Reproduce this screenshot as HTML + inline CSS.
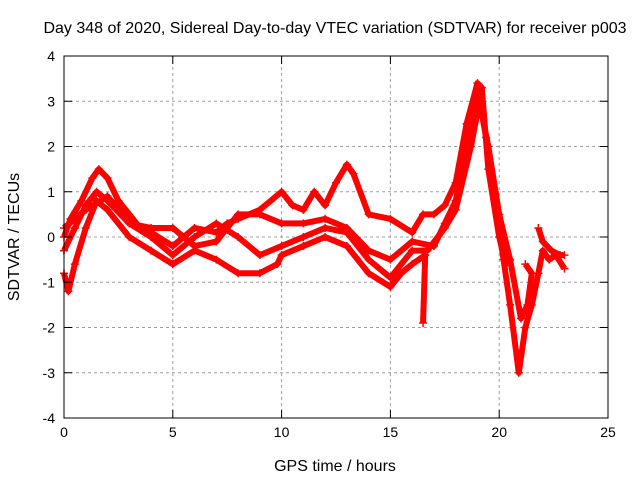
<!DOCTYPE html>
<html><head><meta charset="utf-8"><style>
body{margin:0;background:#fff;}
svg{display:block;font-family:"Liberation Sans",sans-serif;}
</style></head><body>
<svg id="chart" width="640" height="480">
<g id="grid"></g>
<g id="series"></g>
<rect x="64" y="56" width="544" height="362" fill="none" stroke="#000" stroke-width="1"/>
<g id="ticks"></g>
<text x="335" y="33" font-size="16" text-anchor="middle">Day 348 of 2020, Sidereal Day-to-day VTEC variation (SDTVAR) for receiver p003</text>
<text x="335" y="471" font-size="16" text-anchor="middle">GPS time / hours</text>
<text x="19" y="237" font-size="16" text-anchor="middle" transform="rotate(-90 19 237)">SDTVAR / TECUs</text>
</svg>
<script>
const xTicks=[0,5,10,15,20,25];
const yTicks=[-4,-3,-2,-1,0,1,2,3,4];
const traceA=[[0,0],[0.3,0.4],[0.8,0.8],[1.3,1.3],[1.6,1.5],[2,1.3],[2.5,0.8],[3,0.5],[3.5,0.2],[4,0.1],[5,-0.2],[6,0.2],[7,0.1],[7.5,0.3],[8,0.4],[9,0.6],[10,1.0],[10.5,0.7],[11,0.6],[11.5,1.0],[12,0.7],[12.5,1.2],[13,1.6],[13.3,1.4],[14,0.5],[15,0.4],[16,0.1],[16.5,0.5],[17,0.5],[17.5,0.7],[18,1.2],[18.5,2.5],[19,3.4],[19.2,3.3],[19.5,1.5],[20,0.0],[20.3,-0.6],[20.5,-0.5]];
const traceB=[[0,-0.8],[0.2,-1.2],[0.5,-0.6],[1,0.2],[1.5,0.8],[2,0.6],[3,0.0],[4,-0.3],[5,-0.6],[6,-0.3],[7,-0.5],[8,-0.8],[9,-0.8],[9.8,-0.6],[10,-0.4],[11,-0.2],[12,0.0],[13,-0.2],[14,-0.8],[15,-1.1],[15.5,-0.8],[16,-0.6],[16.6,-0.4],[16.5,-1.9]];
const traceC=[[0,-0.3],[0.5,0.2],[1,0.7],[1.5,1.0],[2,0.8],[3,0.3],[4,0.2],[5,0.2],[6,-0.2],[7,-0.1],[8,0.5],[9,0.5],[10,0.3],[11,0.3],[12,0.4],[13,0.2],[14,-0.3],[15,-0.5],[16,-0.1],[17,-0.2],[17.5,0.3],[18,0.8],[18.5,2.0],[19,3.2],[19.5,2.0],[20,0.5],[20.5,-0.5],[21,-1.8],[21.3,-1.5],[21.5,-0.8],[21.2,-0.6]];
const traceD=[[0,0.2],[1,0.6],[2,0.9],[3,0.3],[4,0.0],[5,-0.4],[6,0.0],[7,0.3],[8,0.0],[9,-0.4],[10,-0.2],[11,0.0],[12,0.2],[13,0.1],[14,-0.5],[15,-0.9],[16,-0.3],[16.7,-0.3],[17.5,0.2],[18,0.6],[18.7,2.0],[19.1,3.0],[19.4,2.2],[19.8,0.8],[20.2,-0.5],[20.5,-1.5],[20.9,-3.0],[21.2,-2.0],[21.5,-1.5],[21.8,-0.8],[22,-0.3],[22.3,-0.5],[22.6,-0.4],[23,-0.7]];
const traceE=[[21.8,0.2],[22,-0.1],[22.4,-0.3],[22.8,-0.4],[23,-0.4]];
const X0=64,X1=608,Y0=418,Y1=56;
function sx(v){return X0+(v-0)/(25-0)*(X1-X0);}
function sy(v){return Y0-(v+4)/8*(Y0-Y1);}
const NS="http://www.w3.org/2000/svg";
const grid=document.getElementById('grid'),ticks=document.getElementById('ticks'),ser=document.getElementById('series');
function mk(t,a,p){const e=document.createElementNS(NS,t);for(const k in a)e.setAttribute(k,a[k]);p.appendChild(e);return e;}
xTicks.forEach(v=>{const x=sx(v);
 if(v>0&&v<25){const g=mk('line',{x1:x,y1:Y0,x2:x,y2:Y1,stroke:'#a0a0a0','stroke-dasharray':'3,3'},grid);
 }
 const t=mk('path',{d:`M${x},${Y0}v-8M${x},${Y1}v8`,stroke:'#000'},ticks);
 
 const l=mk('text',{x:x,y:Y0+19,'font-size':14,'text-anchor':'middle'},ticks);l.textContent=v;
 });
yTicks.forEach(v=>{const y=sy(v);
 if(v>-4&&v<4){const g=mk('line',{x1:X0,y1:y,x2:X1,y2:y,stroke:'#a0a0a0','stroke-dasharray':'3,3'},grid);
 }
 const t=mk('path',{d:`M${X0},${y}h8M${X1},${y}h-8`,stroke:'#000'},ticks);
 
 const l=mk('text',{x:X0-9,y:y+5,'font-size':14,'text-anchor':'end'},ticks);l.textContent=v;
 });
[traceA,traceB,traceC,traceD,traceE].forEach((tr,i)=>{
 const pl=mk('polyline',{points:tr.map(p=>sx(p[0])+','+sy(p[1])).join(' '),fill:'none',stroke:'#f00','stroke-width':6,'stroke-linejoin':'round'},ser);
 
 
 tr.forEach(p=>{const x=sx(p[0]),y=sy(p[1]);
  const m=mk('path',{d:`M${x-4},${y}h8M${x},${y-4}v8`,stroke:'#f00','stroke-width':1.5},ser);
  
  });
});
</script>
</body></html>
